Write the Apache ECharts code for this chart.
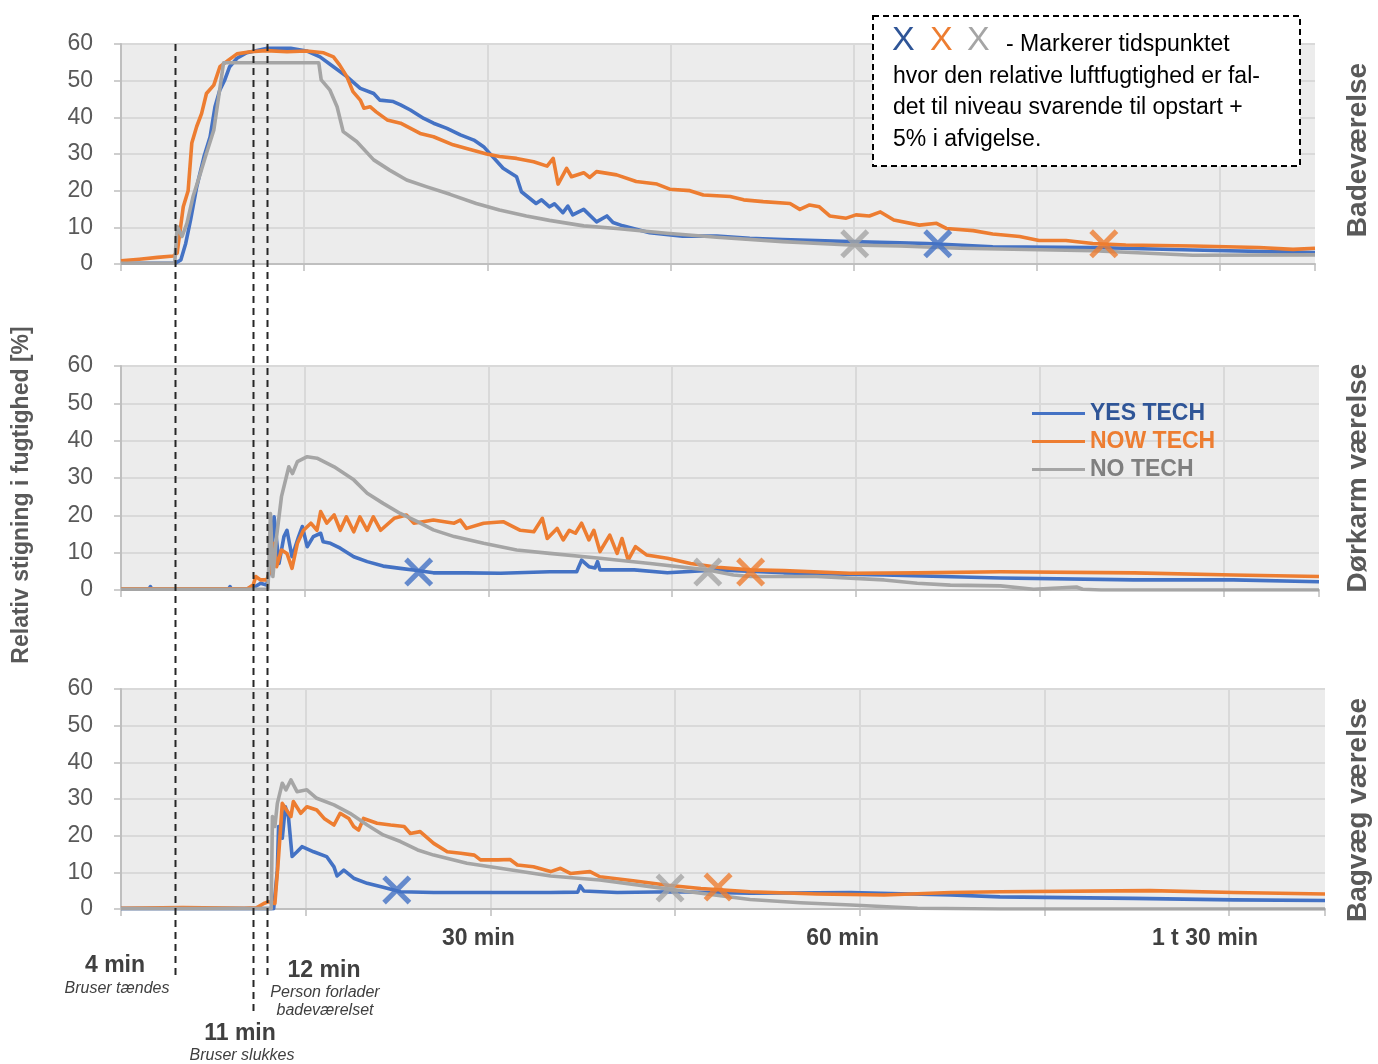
<!DOCTYPE html>
<html>
<head>
<meta charset="utf-8">
<title>Relativ stigning i fugtighed</title>
<script src="https://cdn.jsdelivr.net/npm/echarts@6/dist/echarts.min.js"></script>
<style>
html,body{margin:0;padding:0;background:#fff;}
#chart{width:1378px;height:1064px;}
</style>
</head>
<body>
<div id="chart"></div>
<script>
var FONT = '"Liberation Sans", Arial, sans-serif';

var seriesNames = ['YES TECH', 'NOW TECH', 'NO TECH'];
var lineColors = ['#4472C4', '#ED7D31', '#A5A5A5'];
var legendTextColors = ['#2F5597', '#ED7D31', '#7F7F7F'];
var roomNames = ['Badeværelse', 'Dørkarm værelse', 'Bagvæg værelse'];
var xTickLabels = {30: '{a|30 min}', 60: '{b|60 min}', 90: '{c|1 t 30 min}'};
var xMax = 97.8;   // minutter
var yTicks = [0, 10, 20, 30, 40, 50, 60];

// Badeværelse [min, %]
var bathYes = [[0,0.2],[4.45,0.2],[4.9,1.1],[5.3,5.6],[5.7,12],[6.2,21],[6.8,29.3],[7.3,34.7],[7.7,42.9],[8.1,47.5],[8.5,50.2],[8.9,53.8],[9.5,56.1],[10.3,57.6],[11.9,58.8],[13.9,58.8],[15.2,58.1],[16.3,56.5],[17.4,53.8],[18.5,51.1],[19.6,47.9],[20.7,46.5],[21.2,44.7],[22.3,44.3],[22.9,43.4],[23.7,42],[24.8,39.7],[25.6,38.4],[26.7,37],[27.8,35.2],[28.9,33.8],[29.7,32],[31.3,26.1],[32.4,23.8],[32.8,19.7],[34.0,16.5],[34.45,17.5],[35.1,15.6],[35.5,16.4],[36.2,14],[36.6,15.8],[37.0,13.4],[37.9,14.9],[38.95,11.5],[39.8,13.1],[40.3,11.3],[41.1,10.4],[43.3,8.5],[46,7.6],[48.8,7.6],[51.5,7],[54.2,6.7],[56.95,6.4],[59.7,6.1],[63.8,5.8],[66,5.6],[71.4,4.7],[79.6,4.5],[87.8,3.8],[97.8,3.1]];
var bathNow = [[0,0.9],[1.5,1.3],[3,1.8],[4.3,2.2],[4.6,3],[5.1,15.6],[5.5,20],[5.8,33],[6.2,37.5],[6.6,41],[7.0,46.5],[7.6,48.8],[8.1,53.8],[8.8,55.6],[9.5,57.3],[10.6,57.9],[11.9,58.2],[13.6,57.9],[15.2,58.1],[16.6,57.6],[17.4,56.5],[17.9,54.3],[18.5,51.1],[19.0,47],[19.6,44.7],[19.9,42.5],[20.4,42.9],[20.9,41.5],[21.8,39.3],[22.9,38.4],[24.5,35.6],[25.6,34.7],[27.2,32.5],[28.3,31.5],[29.95,30],[31.0,29.3],[32.4,28.8],[33.8,27.9],[34.9,26.7],[35.4,28.8],[35.8,21.8],[36.5,26.1],[36.9,23.8],[37.9,24.9],[38.4,23.6],[38.95,25.2],[40.6,24.3],[42.2,22.5],[43.9,21.8],[44.95,20.4],[46.6,20],[47.7,18.8],[49.9,18.4],[51,17.5],[52.6,17],[54.8,16.5],[55.6,14.9],[56.4,16.1],[57.2,15.6],[58.05,13.1],[59.4,12.5],[60.2,13.4],[61.3,13.1],[62.2,14.2],[63.3,12],[65.4,10.6],[66.8,11.1],[67.6,9.7],[69.8,9.1],[71.4,8.2],[73.6,7.5],[75.2,6.4],[77.4,6.4],[79.6,5.6],[82.3,5.2],[87.8,4.9],[93.2,4.5],[96,4],[97.8,4.3]];
var bathNo = [[0,0.2],[4.4,0.2],[4.6,10.2],[5.0,7.5],[5.4,11.1],[5.9,18.4],[6.5,24.7],[7.0,30.2],[7.6,36.5],[8.0,45.6],[8.4,54.9],[16.2,54.9],[16.4,50.2],[17.1,47.5],[17.7,42.9],[18.2,36.1],[19.3,33.4],[20.7,28.4],[22.0,25.6],[23.4,22.9],[25,21.1],[26.95,19],[29.1,16.5],[31.0,14.7],[33.2,13.1],[35.1,11.9],[37.9,10.4],[40.6,9.7],[44.7,8.4],[48.8,7.3],[54.2,6.1],[59.7,5.2],[63.8,4.9],[68.7,4.3],[79.6,3.6],[87.8,2.4],[97.8,2.5]];

// Dørkarm værelse
var doorYes = [[0,0.35],[2.3,0.35],[2.4,0.9],[2.5,0.35],[8.8,0.35],[8.9,0.9],[9.0,0.35],[10.3,0.35],[10.8,0.6],[11.4,1.8],[11.9,1.3],[12.2,6.25],[12.5,19.6],[12.9,7.1],[13.3,14.3],[13.55,16],[13.96,8.9],[14.5,14.3],[14.8,17],[15.2,11.6],[15.7,14.3],[16.3,15.2],[16.5,12.9],[17.1,12.5],[17.9,11.2],[19,8.9],[20.1,7.6],[21.4,6.4],[22.8,5.8],[24.2,5.2],[25.5,4.6],[28.2,4.6],[31,4.5],[35,4.9],[37.2,4.9],[37.6,8],[38.2,6.25],[38.7,5.9],[38.9,7.6],[39.1,5.4],[41.9,5.4],[44.6,4.6],[48.7,5.4],[54.1,4.6],[62.3,4],[71.8,3.2],[82.7,2.7],[90.8,2.7],[97.8,2.2]];
var doorNow = [[0,0.3],[10.3,0.3],[10.8,1.4],[11.0,3.6],[11.4,2.7],[11.9,2.7],[12.2,5.4],[12.5,12.5],[12.7,6.25],[13.1,10.7],[13.55,9.8],[13.96,5.8],[14.4,12.5],[14.9,16],[15.5,17.9],[16,16],[16.3,21],[16.8,17.9],[17.4,20.1],[17.9,16],[18.4,19.6],[19,15.6],[19.5,19.6],[20.1,16],[20.6,19.6],[21.2,16],[22.3,19.2],[23.3,20.1],[23.9,17.9],[25.5,18.75],[27.2,17.9],[27.7,18.7],[28.2,16.5],[29.6,17.9],[31.2,18.3],[32.6,16],[33.7,15.6],[34.4,19.2],[34.8,13.8],[35.6,16.5],[36.1,13.4],[36.6,16],[37.1,15.2],[37.6,17.9],[38.2,13.4],[38.6,16],[39.1,10.3],[39.9,14.7],[40.5,9.8],[40.9,13.8],[41.4,8],[42,11.6],[42.9,9.4],[44.6,8.5],[46.5,7.1],[48.7,6.1],[51.4,5.4],[54.1,5.2],[59.5,4.5],[65,4.6],[71.8,4.9],[82.7,4.6],[90.8,4],[97.8,3.6]];
var doorNo = [[0,0.2],[12.0,0.2],[12.2,20.5],[12.4,3.6],[12.7,14.3],[13.1,25],[13.7,33],[14.0,31.2],[14.4,34.4],[15.2,35.7],[16,35.3],[17.4,33],[19,29.5],[20.1,25.9],[21.4,23.2],[22.8,20.5],[24.2,18.3],[25.5,16.1],[27.2,14.3],[29.6,12.5],[32.3,10.7],[35,9.8],[39.1,8.5],[43.2,7.1],[47.8,5.4],[50,4],[51.4,3.6],[56.8,3.6],[62.3,2.7],[65,1.8],[67.7,1.3],[71.8,1.1],[74.5,0.2],[78,0.8],[78.5,0.2],[80,0],[97.8,0]];

// Bagvæg værelse
var wallYes = [[0,0.1],[12.4,0.1],[12.7,10.6],[12.8,22.5],[13.1,19.3],[13.35,27.9],[13.6,25.2],[13.9,14.3],[14.3,15.6],[14.7,17],[15.65,15.6],[16.7,14.3],[17.3,11.5],[17.55,9],[18.1,10.6],[18.9,8.4],[20,7],[21.3,5.9],[22.7,4.7],[25.4,4.5],[30.8,4.5],[34.9,4.5],[37.1,4.6],[37.3,6.3],[37.6,4.9],[40.3,4.5],[44.9,4.7],[51.1,4.3],[59.3,4.5],[67.4,3.8],[71.4,3.3],[82.2,2.9],[90.4,2.5],[97.8,2.3]];
var wallNow = [[0,0.2],[5,0.4],[10,0.2],[11.0,0.3],[11.6,1.5],[12.0,2],[12.5,1.5],[12.8,14.3],[13.1,28.8],[13.35,27.5],[13.8,25.2],[14,29.3],[14.6,26.1],[15.1,27.9],[15.9,27],[16.5,24.7],[17.3,22.9],[17.8,26.1],[18.5,24.7],[18.9,22.5],[19.3,21.5],[19.7,24.7],[20.8,23.4],[21.9,22.9],[23,22.5],[23.5,20.6],[24.3,21.1],[25.4,17.9],[26.5,15.6],[27.6,15.2],[28.7,14.7],[29.2,13.4],[30.6,13.4],[31.6,13.5],[32.2,12],[33.5,11.5],[34.9,10.2],[35.7,11.1],[36.5,9.7],[38.1,10.2],[38.9,8.8],[41.6,7.7],[44.4,6.5],[47.1,5.6],[51.1,4.7],[56.5,4.1],[62,3.8],[67.4,4.5],[71.4,4.7],[83.6,5],[90.4,4.5],[97.8,4.1]];
var wallNo = [[0,0.1],[12.2,0.1],[12.3,25.2],[12.5,22.5],[12.7,28.8],[13.1,34.3],[13.4,32.5],[13.8,35.2],[14.3,32],[15.1,32.5],[15.9,30.2],[17.3,28.4],[18.6,26.1],[20,22.9],[21.3,20.2],[22.7,18.4],[24.1,16.1],[25.4,14.7],[28.1,12.5],[30.8,11.1],[34.9,9],[38.9,7.9],[43,6.1],[47.1,4.3],[51.1,2.6],[55.2,1.7],[59.3,1.1],[64.7,0.2],[71.4,0],[97.8,0]];

// X-markeringer: tidspunkt hvor niveau = opstart + 5% (yes, now, no)
var bathMarks = [[66.9,5.5],[80.5,5.5],[60.1,5.5]];
var doorMarks = [[24.3,4.8],[51.4,4.8],[47.9,4.8]];
var wallMarks = [[22.4,5.2],[48.5,6.0],[44.6,5.7]];

// hændelser (stiplede linjer)
var eventMinutes = [4.42, 10.8, 11.95];

var roomData = [[bathYes, bathNow, bathNo], [doorYes, doorNow, doorNo], [wallYes, wallNow, wallNo]];
var roomMarks = [bathMarks, doorMarks, wallMarks];

var grids = [
    {left: 121, right: 63, top: 44, height: 220},
    {left: 121, right: 59, top: 366, height: 224},
    {left: 121, right: 53, top: 689, height: 220}
];
var xPath = 'path://M2.5,0L10,7.5L17.5,0L20,2.5L12.5,10L20,17.5L17.5,20L10,12.5L2.5,20L0,17.5L7.5,10L0,2.5Z';

var chart = echarts.init(document.getElementById('chart'));

var option = {
    animation: false,
    backgroundColor: '#fff',
    textStyle: {fontFamily: FONT},
    grid: [],
    xAxis: [],
    yAxis: [],
    series: [],
    legend: {
        orient: 'vertical',
        left: 1032,
        top: 402,
        padding: 0,
        icon: 'rect',
        itemWidth: 53,
        itemHeight: 3,
        itemGap: 5,
        textStyle: {fontSize: 23, fontWeight: 'bold', fontFamily: FONT},
        data: seriesNames.map(function (n, k) {
            return {name: n, textStyle: {color: legendTextColors[k]}};
        })
    }
};

grids.forEach(function (g, i) {
    option.grid.push({
        left: g.left, right: g.right, top: g.top, height: g.height,
        show: true, backgroundColor: '#ececec', borderWidth: 0,
        outerBoundsMode: 'none'
    });
    option.xAxis.push({
        type: 'value', gridIndex: i, min: 0, max: xMax, interval: 15,
        axisLine: {show: true, lineStyle: {color: '#bfbfbf', width: 2}},
        axisTick: {show: true, length: 7, lineStyle: {color: '#bfbfbf', width: 1.5}},
        splitLine: {show: true, showMaxLine: false, lineStyle: {color: '#d9d9d9', width: 2}},
        axisLabel: {
            show: i === 2,
            margin: 18,
            formatter: function (v) { return xTickLabels[v] || ''; },
            rich: {
                a: {fontSize: 23, fontWeight: 'bold', color: '#404040', fontFamily: FONT, padding: [0, 24, 0, 0]},
                b: {fontSize: 23, fontWeight: 'bold', color: '#404040', fontFamily: FONT, padding: [0, 34, 0, 0]},
                c: {fontSize: 23, fontWeight: 'bold', color: '#404040', fontFamily: FONT, padding: [0, 48, 0, 0]}
            }
        }
    });
    option.yAxis.push({
        type: 'value', gridIndex: i, min: yTicks[0], max: yTicks[yTicks.length - 1], interval: 10,
        axisLine: {show: true, lineStyle: {color: '#bfbfbf', width: 2}},
        axisTick: {show: true, length: 7, lineStyle: {color: '#bfbfbf', width: 1.5}},
        splitLine: {show: true, lineStyle: {color: '#d9d9d9', width: 2}},
        axisLabel: {fontSize: 23, color: '#595959', margin: 28, fontFamily: FONT}
    });

    for (var k = 0; k < 3; k++) {
        option.series.push({
            name: seriesNames[k],
            type: 'line',
            xAxisIndex: i, yAxisIndex: i,
            data: roomData[i][k],
            showSymbol: false,
            symbol: 'none',
            lineStyle: {width: 3.6, color: lineColors[k], join: 'round'},
            itemStyle: {color: lineColors[k]},
            z: 2 + k
        });
    }
    for (var k2 = 0; k2 < 3; k2++) {
        option.series.push({
            name: seriesNames[k2] + ' X',
            type: 'scatter',
            xAxisIndex: i, yAxisIndex: i,
            data: [roomMarks[i][k2]],
            symbol: xPath,
            symbolSize: 29,
            itemStyle: {color: lineColors[k2]},
            z: 10
        });
    }
});

chart.setOption(option, true);

// stiplede hændelseslinjer + tekster
var lineEnds = [978, 1012, 978];
var yTop = chart.convertToPixel({yAxisIndex: 0}, 60);
var gfx = [];
eventMinutes.forEach(function (t, i) {
    var x = Math.round(chart.convertToPixel({xAxisIndex: 0}, t)) + 0.5;
    gfx.push({
        type: 'line', z: 50,
        shape: {x1: x, y1: yTop, x2: x, y2: lineEnds[i]},
        style: {stroke: '#262626', lineWidth: 2, lineDash: [7, 5]}
    });
});

function txt(x, y, s, size, opts) {
    opts = opts || {};
    return {
        type: 'text', x: x, y: y, z: 60, rotation: opts.rot || 0,
        style: {
            text: s, fontSize: size, fontFamily: FONT,
            fontWeight: opts.bold ? 'bold' : 'normal',
            fontStyle: opts.italic ? 'italic' : 'normal',
            fill: opts.color || '#404040',
            align: opts.align || 'center', verticalAlign: 'middle'
        }
    };
}

gfx.push(txt(115, 966, '4 min', 23, {bold: true}));
gfx.push(txt(117, 989, 'Bruser tændes', 16, {italic: true}));
gfx.push(txt(324, 971, '12 min', 23, {bold: true}));
gfx.push(txt(325, 993, 'Person forlader', 16, {italic: true}));
gfx.push(txt(325, 1011, 'badeværelset', 16, {italic: true}));
gfx.push(txt(240, 1034, '11 min', 23, {bold: true}));
gfx.push(txt(242, 1056, 'Bruser slukkes', 16, {italic: true}));

// rumnavne til højre og y-akse titel
var roomTitleY = [150, 478, 810];
roomNames.forEach(function (n, i) {
    gfx.push(txt(1358, roomTitleY[i], n, 28, {bold: true, color: '#595959', rot: Math.PI / 2}));
});
gfx.push(txt(22, 495, 'Relativ stigning i fugtighed [%]', 23, {bold: true, color: '#595959', rot: Math.PI / 2}));

// forklaringsboks
gfx.push({
    type: 'rect', z: 40,
    shape: {x: 873, y: 16, width: 427, height: 150},
    style: {fill: '#fff', stroke: '#000', lineWidth: 2, lineDash: [6, 4]}
});
gfx.push(txt(892, 41, 'X', 34, {color: '#2F5597', align: 'left'}));
gfx.push(txt(930, 41, 'X', 34, {color: '#ED7D31', align: 'left'}));
gfx.push(txt(967, 41, 'X', 34, {color: '#A5A5A5', align: 'left'}));
gfx.push(txt(1006, 45, '- Markerer tidspunktet', 23, {color: '#000', align: 'left'}));
gfx.push(txt(893, 77, 'hvor den relative luftfugtighed er fal-', 23, {color: '#000', align: 'left'}));
gfx.push(txt(893, 108, 'det til niveau svarende til opstart +', 23, {color: '#000', align: 'left'}));
gfx.push(txt(893, 140, '5% i afvigelse.', 23, {color: '#000', align: 'left'}));

chart.setOption({graphic: {elements: gfx}});
</script>
</body>
</html>
